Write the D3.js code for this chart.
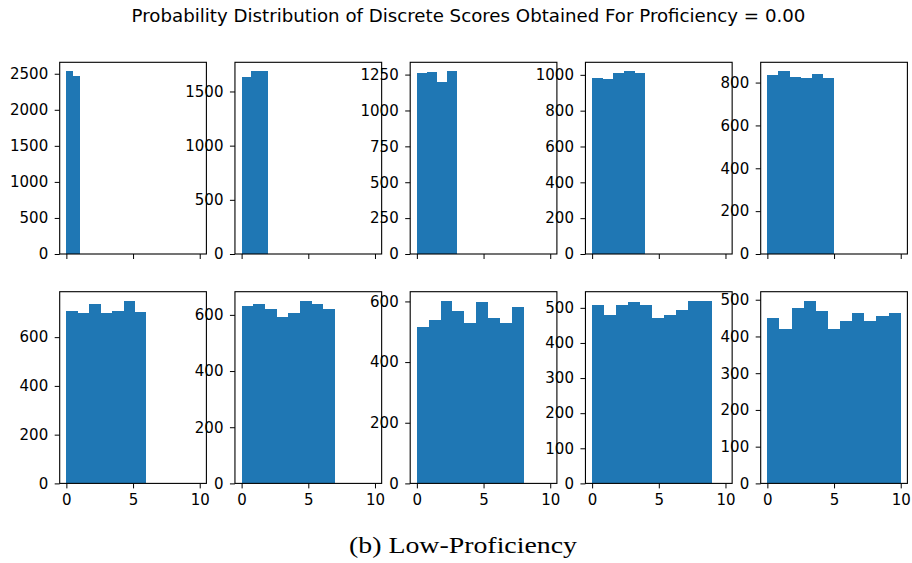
<!DOCTYPE html>
<html>
<head>
<meta charset="utf-8">
<script src="https://cdn.jsdelivr.net/npm/d3@7"></script>
<style>
  html, body { margin: 0; padding: 0; background: #fff; }
  svg { display: block; }
  .tick text { font-family: "DejaVu Sans", sans-serif; }
</style>
</head>
<body>
<svg id="chart" width="912" height="563"></svg>
<script>
// Highest achievable score in each panel (scores run 0..max, one bin per score)
const scoreMax = [1, 2, 3, 4, 5, 6, 7, 8, 9, 10];

// Counts per bin, 5000 draws per panel
const counts = [
  [2532, 2468],
  [1630, 1685, 1685],
  [1262, 1270, 1196, 1272],
  [983, 977, 1013, 1019, 1008],
  [836, 852, 827, 820, 841, 820],
  [708, 698, 738, 698, 708, 749, 702],
  [633, 637, 621, 594, 605, 650, 637, 621],
  [517, 539, 602, 567, 528, 597, 545, 528, 582],
  [507, 479, 509, 516, 509, 472, 479, 494, 520, 520],
  [450, 420, 477, 497, 470, 420, 441, 465, 441, 455, 464]
];

// Y tick values per panel
const yTicks = [
  [0, 500, 1000, 1500, 2000, 2500],
  [0, 500, 1000, 1500],
  [0, 250, 500, 750, 1000, 1250],
  [0, 200, 400, 600, 800, 1000],
  [0, 200, 400, 600, 800],
  [0, 200, 400, 600],
  [0, 200, 400, 600],
  [0, 200, 400, 600],
  [0, 100, 200, 300, 400, 500],
  [0, 100, 200, 300, 400, 500]
];

const xTicks = [0, 5, 10];
const xDomain = [-0.5, 10.5];

const titleText = "Probability Distribution of Discrete Scores Obtained For Proficiency = 0.00";
const captionText = "(b) Low-Proficiency";

const svg = d3.select("#chart");
const barColor = "#1f77b4";

// Grid geometry
const cols = 5;
const panelW = 146.7;
const panelH = 191.7;
const left0 = 59.7;
const colStep = 175.25;
const rowTops = [62.3, 291.7];

svg.append("text")
  .attr("x", 468.5)
  .attr("y", 22)
  .attr("text-anchor", "middle")
  .attr("font-family", "DejaVu Sans, sans-serif")
  .attr("font-size", 18.2)
  .attr("fill", "#000")
  .text(titleText);

scoreMax.forEach((n, i) => {
  const row = Math.floor(i / cols);
  const col = i % cols;
  const x0 = left0 + col * colStep;
  const y0 = rowTops[row];

  const g = svg.append("g").attr("transform", `translate(${x0},${y0})`);

  const x = d3.scaleLinear().domain(xDomain).range([0, panelW]);
  const data = counts[i];
  const y = d3.scaleLinear().domain([0, d3.max(data) * 1.05]).range([panelH, 0]);

  // n+1 equal bins spanning [0, n]
  const binW = n / data.length;
  g.selectAll("rect.bar")
    .data(data)
    .join("rect")
    .attr("class", "bar")
    .attr("x", (d, k) => x(k * binW))
    .attr("width", (d, k) => x((k + 1) * binW) - x(k * binW))
    .attr("y", d => y(d))
    .attr("height", d => y(0) - y(d))
    .attr("fill", barColor)
    .attr("shape-rendering", "crispEdges");

  // Axes
  const yAxis = d3.axisLeft(y)
    .tickValues(yTicks[i])
    .tickFormat(d3.format("d"))
    .tickSize(5)
    .tickPadding(6.5);
  const xAxis = d3.axisBottom(x)
    .tickValues(xTicks)
    .tickFormat(row === 1 ? d3.format("d") : () => "")
    .tickSize(5)
    .tickPadding(5.5);

  const ya = g.append("g").call(yAxis);
  const xa = g.append("g").attr("transform", `translate(0,${panelH})`).call(xAxis);
  [ya, xa].forEach(a => {
    a.select(".domain").remove();
    a.selectAll(".tick line").attr("stroke", "#000").attr("stroke-width", 1);
    a.selectAll(".tick text")
      .attr("font-size", 15)
      .attr("fill", "#000");
  });

  // Frame
  g.append("rect")
    .attr("x", 0).attr("y", 0)
    .attr("width", panelW).attr("height", panelH)
    .attr("fill", "none")
    .attr("stroke", "#000")
    .attr("stroke-width", 1.1);
});

svg.append("text")
  .attr("x", 463)
  .attr("y", 553)
  .attr("text-anchor", "middle")
  .attr("font-family", "Liberation Serif, serif")
  .attr("font-size", 23)
  .attr("textLength", 228)
  .attr("lengthAdjust", "spacingAndGlyphs")
  .attr("fill", "#000")
  .text(captionText);
</script>
</body>
</html>
